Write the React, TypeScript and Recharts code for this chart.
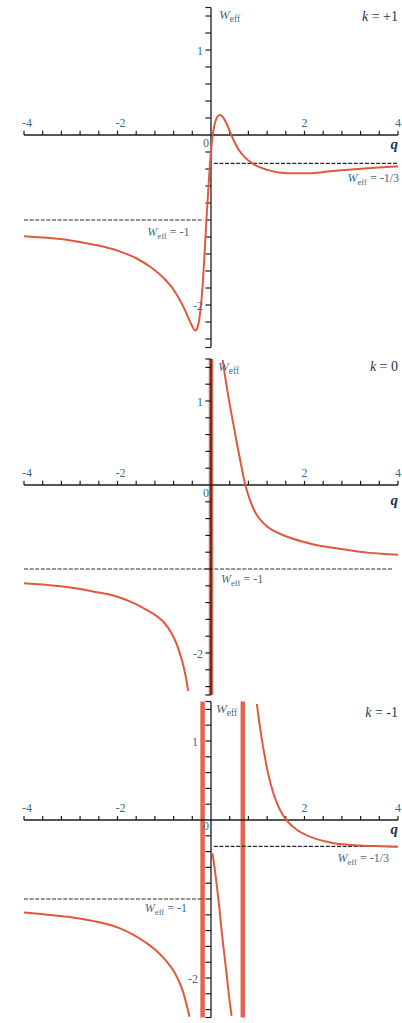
import React from 'react'
import { LineChart, Line, XAxis, YAxis, ReferenceLine, ReferenceDot } from 'recharts'

// tick positions on the axes (crossing at the origin)
const xTicks = [-4, -3.6, -3.2, -2.8, -2.4, -2, -1.6, -1.2, -0.8, -0.4, 0.4, 0.8, 1.2, 1.6, 2, 2.4, 2.8, 3.2, 3.6, 4]
const yTicks = [-2.5, -2.4, -2.2, -2, -1.8, -1.6, -1.4, -1.2, -1, -0.8, -0.6, -0.4, -0.2, 0.2, 0.4, 0.6, 0.8, 1, 1.2, 1.4, 1.5]
const xLabels = [-4, -2, 2, 4]
const yLabels = [1, -2]

// k = +1 : one continuous curve
const k1Q = [-4, -3.5, -3, -2.5, -2, -1.6, -1.3, -1.0, -0.8, -0.6, -0.5, -0.42, -0.36, -0.33, -0.3, -0.26, -0.22, -0.18, -0.14, -0.1, -0.06, -0.02, 0.02, 0.06, 0.1, 0.15, 0.19, 0.24, 0.3, 0.36, 0.42, 0.5, 0.6, 0.72, 0.85, 1.0, 1.2, 1.45, 1.75, 2.1, 2.5, 3.0, 3.5, 4.0]
const k1W = [-1.19, -1.21, -1.24, -1.29, -1.36, -1.45, -1.55, -1.69, -1.82, -2.01, -2.13, -2.23, -2.29, -2.3, -2.28, -2.2, -2.03, -1.78, -1.42, -1.02, -0.66, -0.33, -0.08, 0.08, 0.17, 0.225, 0.235, 0.22, 0.17, 0.1, 0.02, -0.08, -0.18, -0.26, -0.32, -0.37, -0.41, -0.44, -0.45, -0.45, -0.43, -0.405, -0.385, -0.37]

// k = 0 : two branches around the pole at q = 0
const k0LeftQ = [-4, -3.5, -3, -2.5, -2, -1.64, -1.4, -1.14, -1.0, -0.86, -0.76, -0.68, -0.6, -0.54, -0.49]
const k0LeftW = [-1.17, -1.19, -1.22, -1.27, -1.33, -1.41, -1.48, -1.57, -1.64, -1.75, -1.86, -1.98, -2.13, -2.28, -2.45]
const k0RightQ = [0.25, 0.3, 0.36, 0.43, 0.5, 0.57, 0.64, 0.71, 0.78, 0.86, 0.95, 1.05, 1.21, 1.4, 1.6, 1.93, 2.3, 2.64, 3.0, 3.35, 3.7, 4.0]
const k0RightW = [1.49, 1.3, 1.09, 0.87, 0.66, 0.45, 0.25, 0.06, -0.09, -0.22, -0.33, -0.41, -0.5, -0.56, -0.61, -0.67, -0.72, -0.75, -0.78, -0.805, -0.82, -0.83]

// k = -1 : three branches between two poles
const km1LeftQ = [-4, -3.5, -3, -2.5, -2, -1.64, -1.4, -1.14, -0.95, -0.78, -0.68, -0.6, -0.53, -0.46]
const km1LeftW = [-1.17, -1.2, -1.23, -1.28, -1.36, -1.46, -1.55, -1.67, -1.79, -1.93, -2.05, -2.17, -2.32, -2.49]
const km1MidQ = [0.03, 0.08, 0.13, 0.18, 0.23, 0.28, 0.33, 0.38, 0.44]
const km1MidW = [-0.42, -0.62, -0.86, -1.12, -1.42, -1.68, -1.93, -2.2, -2.48]
const km1RightQ = [0.98, 1.03, 1.08, 1.14, 1.2, 1.27, 1.35, 1.45, 1.55, 1.64, 1.85, 2.2, 2.6, 3.0, 3.5, 4.0]
const km1RightW = [1.47, 1.25, 1.05, 0.84, 0.65, 0.47, 0.31, 0.16, 0.05, -0.02, -0.13, -0.23, -0.29, -0.315, -0.33, -0.34]

const k0Poles = [0]
const km1Poles = [-0.18, 0.68]

const k1Asym = [{ w: -1 / 3, from: 0.06, to: 4, text: '-1/3' }, { w: -1, from: -4, to: -0.16, text: '-1' }]
const k0Asym = [{ w: -1, from: -4, to: 3.9, text: '-1' }]
const km1Asym = [{ w: -1 / 3, from: 0.06, to: 4, text: '-1/3' }, { w: -1, from: -4, to: -0.15, text: '-1' }]

const zip = (q: number[], w: number[]) => q.map((v, i) => ({ q: v, w: w[i] }))

const CURVE = '#e4573f'
const AXIS = '#1c1c1c'
const TICKTXT = '#3b6b8a'
const DARK = '#1f3550'
const FONT = '"Liberation Serif", "DejaVu Serif", serif'

const note = (
  key: string, x: number, y: number, dx: number, dy: number,
  anchor: 'start' | 'middle' | 'end', body: React.ReactNode, size = 12, color = TICKTXT,
) => (
  <ReferenceDot
    key={key} x={x} y={y} r={0} fill="none" stroke="none" ifOverflow="visible"
    label={(p: any) => {
      const vb = p.viewBox || { x: 0, y: 0 }
      return (
        <text x={vb.x + dx} y={vb.y + dy} textAnchor={anchor} fontFamily={FONT} fontSize={size} fill={color}>
          {body}
        </text>
      )
    }}
  />
)

const weff = (rest?: string) => (
  <>
    <tspan fontStyle="italic">W</tspan>
    <tspan fontSize="0.72em" dy={3}>eff</tspan>
    {rest ? <tspan dy={-3}>{rest}</tspan> : null}
  </>
)

type Layout = {
  zeroDy: number
  qDy: number
  yLabDx: number
  weffDx: number
  weffDy: number
  kDy: number
  asymLabels: { x: number; dx: number; dy: number; anchor: 'start' | 'end' }[]
}

function Panel({ height, top, bottom, kText, branches, poles, asym, lay }: {
  height: number; top: number; bottom: number; kText: string
  branches: { q: number; w: number }[][]; poles: number[]
  asym: { w: number; from: number; to: number; text: string }[]; lay: Layout
}) {
  return (
    <LineChart width={402} height={height} margin={{ top, right: 4, bottom, left: 24 }}>
      <XAxis type="number" dataKey="q" domain={[-4, 4]} hide allowDataOverflow />
      <YAxis type="number" dataKey="w" domain={[-2.5, 1.5]} hide allowDataOverflow />
      {poles.map((p) => (
        <ReferenceLine key={`pole${p}`} x={p} stroke={CURVE} strokeWidth={4.5} strokeOpacity={0.92} />
      ))}
      {asym.map((a, i) => (
        <ReferenceLine key={`as${i}`} segment={[{ x: a.from, y: a.w }, { x: a.to, y: a.w }]}
          stroke="#2a2a2a" strokeWidth={1.2} strokeDasharray="4 1.6" />
      ))}
      <ReferenceLine y={0} stroke={AXIS} strokeWidth={1.3} />
      <ReferenceLine x={0} stroke={AXIS} strokeWidth={1.3} />
      {xTicks.map((t) => (
        <ReferenceLine key={`xt${t}`} segment={[{ x: t, y: 0 }, { x: t, y: 0.05 }]} stroke={AXIS} strokeWidth={1.2} />
      ))}
      {yTicks.map((t) => (
        <ReferenceLine key={`yt${t}`} segment={[{ x: -0.12, y: t }, { x: 0, y: t }]} stroke={AXIS} strokeWidth={1.2} />
      ))}
      {xLabels.map((t) => note(`xl${t}`, t, 0, t < 0 ? 3 : 0, -8, 'middle', String(t)))}
      {yLabels.map((t) => note(`yl${t}`, 0, t, lay.yLabDx, 4.5, 'end', String(t)))}
      {note('zero', 0, 0, -5, lay.zeroDy, 'middle', '0')}
      {note('q', 4, 0, 0, lay.qDy, 'end', <tspan fontStyle="italic" fontWeight="bold">q</tspan>, 15, DARK)}
      {note('weff', 0, 1.5, lay.weffDx, lay.weffDy, 'start', weff(), 13, TICKTXT)}
      {note('k', 4, 1.5, 0, lay.kDy, 'end',
        <><tspan fontStyle="italic">k</tspan><tspan>{` = ${kText}`}</tspan></>, 14, DARK)}
      {asym.map((a, i) => {
        const l = lay.asymLabels[i]
        return note(`al${i}`, l.x, a.w, l.dx, l.dy, l.anchor, weff(` = ${a.text}`), 12, TICKTXT)
      })}
      {branches.map((b, i) => (
        <Line key={`b${i}`} data={b} dataKey="w" type="monotone" stroke={CURVE} strokeWidth={2}
          dot={false} isAnimationActive={false} />
      ))}
    </LineChart>
  )
}

export default function App() {
  return (
    <div style={{ position: 'absolute', left: 0, top: 0, width: 402, height: 1023, background: '#fff' }}>
      <Panel height={350} top={7.5} bottom={2.5} kText="+1"
        branches={[zip(k1Q, k1W)]} poles={[]} asym={k1Asym}
        lay={{ zeroDy: 12, qDy: 14, yLabDx: -8, weffDx: 8, weffDy: 11, kDy: 13,
          asymLabels: [{ x: 4, dx: 1, dy: 19, anchor: 'end' }, { x: -0.16, dx: -14, dy: 16, anchor: 'end' }] }} />
      <Panel height={347} top={9} bottom={2} kText="0"
        branches={[zip(k0LeftQ, k0LeftW), zip(k0RightQ, k0RightW)]} poles={k0Poles} asym={k0Asym}
        lay={{ zeroDy: 12, qDy: 20, yLabDx: -8, weffDx: 7, weffDy: 12, kDy: 12,
          asymLabels: [{ x: 0, dx: 10, dy: 14, anchor: 'start' }] }} />
      <Panel height={326} top={4.5} bottom={5.5} kText="-1"
        branches={[zip(km1LeftQ, km1LeftW), zip(km1MidQ, km1MidW), zip(km1RightQ, km1RightW)]}
        poles={km1Poles} asym={km1Asym}
        lay={{ zeroDy: 10, qDy: 14, yLabDx: -13, weffDx: 5, weffDy: 11, kDy: 15,
          asymLabels: [{ x: 4, dx: -9, dy: 16, anchor: 'end' }, { x: -0.15, dx: -17, dy: 13, anchor: 'end' }] }} />
    </div>
  )
}
